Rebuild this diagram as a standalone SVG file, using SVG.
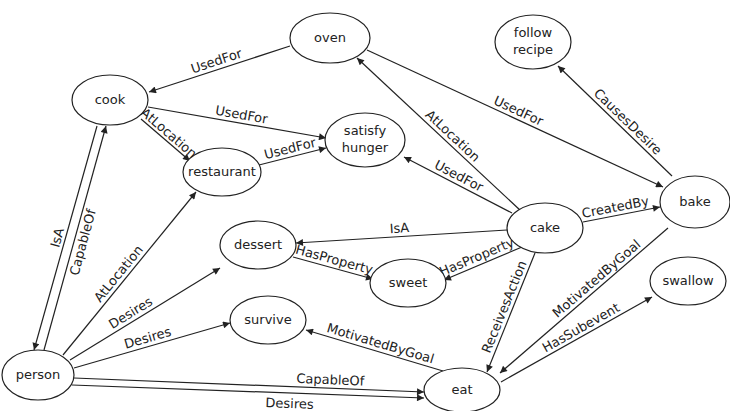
<svg xmlns="http://www.w3.org/2000/svg" width="730" height="411" viewBox="0 0 730 411">
<style>
.node ellipse{fill:#fff;stroke:#222;stroke-width:1.2}
.node text{font-family:"DejaVu Sans","Liberation Sans",sans-serif;font-size:13px;fill:#222;text-anchor:middle}
.edges line{stroke:#222;stroke-width:1.2;marker-end:url(#arr)}
.lbl{font-family:"DejaVu Sans","Liberation Sans",sans-serif;font-size:13px;fill:#222;text-anchor:middle}
</style>
<defs>
<marker id="arr" viewBox="0 0 10 10" refX="10" refY="5" markerWidth="9" markerHeight="7" markerUnits="userSpaceOnUse" orient="auto">
<path d="M0,0 L10,5 L0,10 z" fill="#222"/>
</marker>
</defs>
<rect width="730" height="411" fill="#fff"/>
<g class="edges">
<line x1="290" y1="46" x2="149" y2="92"/>
<line x1="148" y1="107" x2="326" y2="138"/>
<line x1="141" y1="119" x2="190" y2="161"/>
<line x1="259" y1="165" x2="326" y2="148"/>
<line x1="521" y1="211" x2="357" y2="58"/>
<line x1="367" y1="50" x2="663" y2="187"/>
<line x1="512" y1="213" x2="404" y2="157"/>
<line x1="672" y1="176" x2="558" y2="66"/>
<line x1="583" y1="222" x2="660" y2="207"/>
<line x1="507" y1="230" x2="296" y2="243"/>
<line x1="522" y1="247" x2="444" y2="280"/>
<line x1="293" y1="257" x2="373" y2="279"/>
<line x1="535" y1="253" x2="487" y2="372"/>
<line x1="668" y1="228" x2="500" y2="373"/>
<line x1="501" y1="382" x2="652" y2="297"/>
<line x1="443" y1="371" x2="306" y2="330"/>
<line x1="74" y1="378" x2="424" y2="392"/>
<line x1="72" y1="385" x2="424" y2="398"/>
<line x1="74" y1="368" x2="230" y2="323"/>
<line x1="70" y1="360" x2="220" y2="268"/>
<line x1="63" y1="355" x2="196" y2="192"/>
<line x1="44" y1="350" x2="106" y2="126"/>
<line x1="97" y1="126" x2="34" y2="350"/>
<g class="labels">
<text class="lbl" transform="translate(219,69) rotate(-18.1)" y="-4">UsedFor</text>
<text class="lbl" transform="translate(240,123) rotate(9.9)" y="-4">UsedFor</text>
<text class="lbl" transform="translate(164,138.7) rotate(40.6)" y="-3">AtLocation</text>
<text class="lbl" transform="translate(292,156.7) rotate(-14.2)" y="-4">UsedFor</text>
<text class="lbl" transform="translate(447,142) rotate(43)" y="-4">AtLocation</text>
<text class="lbl" transform="translate(515,118.5) rotate(24.8)" y="-4">UsedFor</text>
<text class="lbl" transform="translate(455,183.4) rotate(27.4)" y="-4">UsedFor</text>
<text class="lbl" transform="translate(622,127.8) rotate(44)" y="-4">CausesDesire</text>
<text class="lbl" transform="translate(617,215.4) rotate(-11)" y="-4">CreatedBy</text>
<text class="lbl" transform="translate(400,236.6) rotate(-3.5)" y="-4">IsA</text>
<text class="lbl" transform="translate(480,264.8) rotate(-22.9)" y="-4">HasProperty</text>
<text class="lbl" transform="translate(332,267.7) rotate(15.4)" y="-4">HasProperty</text>
<text class="lbl" transform="translate(512,310) rotate(-68)" y="-4">ReceivesAction</text>
<text class="lbl" transform="translate(602,285) rotate(-40.8)" y="-4">MotivatedByGoal</text>
<text class="lbl" transform="translate(585,335) rotate(-29.4)" y="-4">HasSubevent</text>
<text class="lbl" transform="translate(378,351.5) rotate(16.7)" y="-4">MotivatedByGoal</text>
<text class="lbl" transform="translate(330,388.2) rotate(2.3)" y="-4">CapableOf</text>
<text class="lbl" transform="translate(290,393) rotate(2.1)" y="15">Desires</text>
<text class="lbl" transform="translate(150,346) rotate(-16.1)" y="-4">Desires</text>
<text class="lbl" transform="translate(135,320) rotate(-31.5)" y="-4">Desires</text>
<text class="lbl" transform="translate(125,279) rotate(-50.8)" y="-4">AtLocation</text>
<text class="lbl" transform="translate(74.5,240) rotate(-74.8)" y="13">CapableOf</text>
<text class="lbl" transform="translate(65.5,240) rotate(-74.5)" y="-4">IsA</text>
</g>
</g>
<g id="oven" class="node"><ellipse cx="330" cy="38" rx="40" ry="25"/><text x="330" y="42">oven</text></g>
<g id="follow-recipe" class="node"><ellipse cx="533" cy="42" rx="38" ry="27"/><text x="533" y="37">follow</text><text x="533" y="54">recipe</text></g>
<g id="cook" class="node"><ellipse cx="110" cy="100" rx="38" ry="25"/><text x="110" y="104">cook</text></g>
<g id="satisfy-hunger" class="node"><ellipse cx="365" cy="140" rx="40" ry="27"/><text x="365" y="135">satisfy</text><text x="365" y="152">hunger</text></g>
<g id="restaurant" class="node"><ellipse cx="222" cy="172" rx="39" ry="24"/><text x="222" y="176">restaurant</text></g>
<g id="bake" class="node"><ellipse cx="695" cy="202" rx="35" ry="26"/><text x="695" y="206">bake</text></g>
<g id="cake" class="node"><ellipse cx="545" cy="228" rx="38" ry="25"/><text x="545" y="232">cake</text></g>
<g id="dessert" class="node"><ellipse cx="258" cy="245" rx="38" ry="24"/><text x="258" y="249">dessert</text></g>
<g id="sweet" class="node"><ellipse cx="408" cy="283" rx="38" ry="24"/><text x="408" y="287">sweet</text></g>
<g id="survive" class="node"><ellipse cx="268" cy="320" rx="38" ry="24"/><text x="268" y="324">survive</text></g>
<g id="swallow" class="node"><ellipse cx="688" cy="281" rx="38" ry="24"/><text x="688" y="285">swallow</text></g>
<g id="person" class="node"><ellipse cx="38" cy="375" rx="36" ry="25"/><text x="38" y="379">person</text></g>
<g id="eat" class="node"><ellipse cx="462" cy="390" rx="38" ry="22"/><text x="462" y="394">eat</text></g>
</svg>
